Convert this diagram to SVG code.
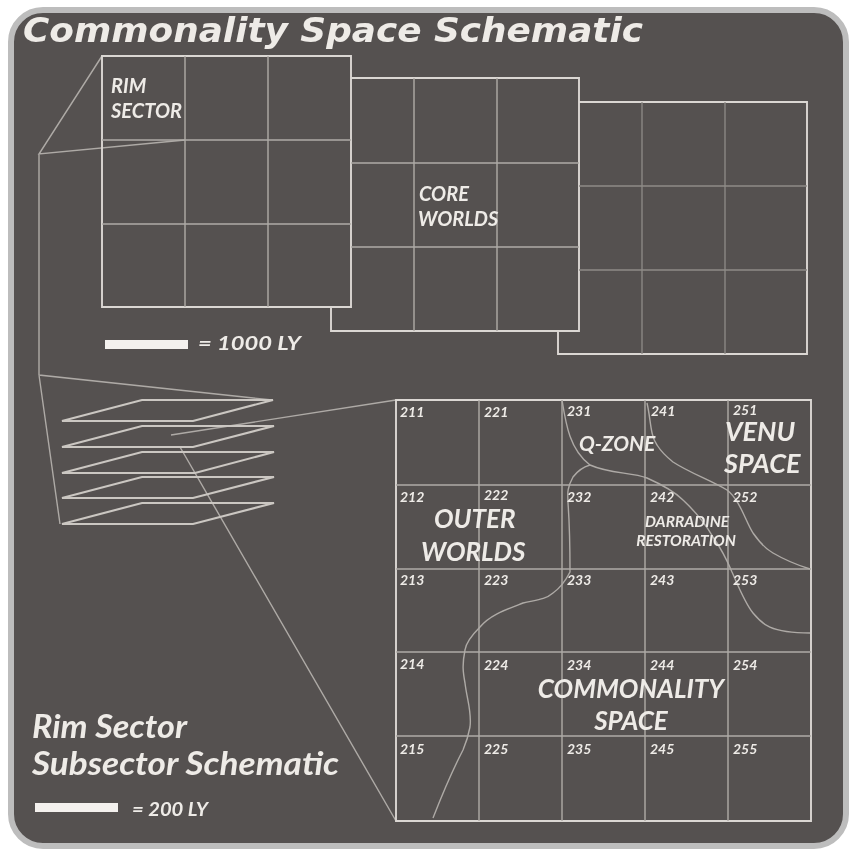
<svg xmlns="http://www.w3.org/2000/svg" width="851" height="849" viewBox="0 0 851 849">
<defs><filter id="soft" x="-2%" y="-2%" width="104%" height="104%"><feGaussianBlur stdDeviation="0.45"/></filter></defs>
<style>
.l{fill:none;stroke:#aeaaa6;stroke-width:1.4}
.g{fill:none;stroke:#dbd7d3;stroke-width:1.9}
.d{fill:none;stroke:#8f8b87;stroke-width:1.3}
.t{font-family:"Lato","Liberation Sans",sans-serif;font-style:italic;font-weight:700;fill:#eeebe7}
.n{font-size:14px}
.s{fill:none;stroke:#cbc7c2;stroke-width:2.1}
.b{fill:#f4f1ee}
</style>
<rect width="851" height="849" fill="#fff"/>
<g id="frame"><rect x="11" y="10" width="835" height="836" rx="32" fill="#555150" stroke="#bdbdbd" stroke-width="6"/></g>
<g filter="url(#soft)">
<text id="title" class="t" x="23" y="42" font-size="33" textLength="620" lengthAdjust="spacingAndGlyphs" style="font-family:'DejaVu Sans',sans-serif;font-weight:700">Commonality Space Schematic</text>
<g id="connectors">
<path class="l" d="M102 56L39 154L185 140M39 154V375L272 400M39 375L60 524"/>
<path class="l" d="M171 435L396 400M180 447L396 821"/>
</g>
<g id="grid-rim-sector">
<path class="g" d="M102 56H351V307H102Z"/>
<path class="l" d="M185 56V307M268 56V307M102 140H351M102 224H351"/>
<text class="t" font-size="20"><tspan x="111" y="93">RIM</tspan><tspan x="111" y="118">SECTOR</tspan></text>
</g>
<g id="grid-core-worlds">
<path class="g" d="M351 78H579V331H331V307"/>
<path class="l" d="M414 78V331M497 78V331M351 163H579M351 247H579"/>
<text class="t" font-size="20"><tspan x="419" y="201">CORE</tspan><tspan x="418" y="226">WORLDS</tspan></text>
</g>
<g id="grid-third">
<path class="g" d="M579 102H807V354H558V331"/>
<path class="d" d="M642 102V354M725 102V354M579 186H807M579 270H807"/>
</g>
<g id="scale-1000"><rect class="b" x="105" y="340" width="83" height="9"/><text class="t" x="198" y="350" font-size="18" textLength="103" lengthAdjust="spacingAndGlyphs">= 1000 LY</text></g>
<g id="slabs">
<path class="s" d="M62 421L142 400H273L193 421Z"/>
<path class="s" d="M62 447L142 426H274L193 447Z"/>
<path class="s" d="M62 473L142 452H274L195 473Z"/>
<path class="s" d="M62 498L142 477H274L193 498Z"/>
<path class="s" d="M62 524L142 503H274L193 524Z"/>
</g>
<g id="grid-subsector">
<path class="g" d="M396 400H811V821H396Z"/>
<path class="l" d="M479 400V821M562 400V821M645 400V821M728 400V821M396 485H811M396 569H811M396 652H811M396 736H811"/>
</g>
<g id="borders">
<path class="l" d="M562 400C566 425 570 450 590 465C610 474 632 472 647 478C665 486 675 492 683 500C698 514 706 525 713 537C722 550 727 560 732 572C740 590 745 603 753 613C762 624 770 633 810 633"/>
<path class="l" d="M647 403C651 420 650 435 657 445C662 453 668 458 673 462C690 473 710 480 727 490C740 500 745 520 753 533C760 543 766 549 773 553C785 560 797 565 810 569"/>
<path class="l" d="M590 465C580 468 576 473 573 477C566 490 568 495 568 503C570 530 570 555 570 572C565 582 560 588 553 593C545 600 535 600 523 603C505 610 490 615 480 627C472 635 466 642 465 650C462 665 463 672 465 683C467 700 472 712 470 727C468 738 466 743 463 750C450 775 442 795 433 818"/>
</g>
<g id="labels" class="t n">
<text x="400" y="417">211</text><text x="484" y="417">221</text><text x="567" y="416">231</text><text x="651" y="416">241</text><text x="733" y="415">251</text>
<text x="400" y="502">212</text><text x="484" y="500">222</text><text x="567" y="502">232</text><text x="650" y="502">242</text><text x="733" y="502">252</text>
<text x="400" y="585">213</text><text x="484" y="585">223</text><text x="567" y="585">233</text><text x="650" y="585">243</text><text x="733" y="585">253</text>
<text x="400" y="669">214</text><text x="484" y="670">224</text><text x="567" y="670">234</text><text x="650" y="670">244</text><text x="733" y="670">254</text>
<text x="400" y="754">215</text><text x="484" y="754">225</text><text x="567" y="754">235</text><text x="650" y="754">245</text><text x="733" y="754">255</text>
</g>
<g id="region-labels">
<text class="t" x="579" y="451" font-size="21">Q-ZONE</text>
<text class="t" font-size="27"><tspan x="725" y="441">VENU</tspan><tspan x="724" y="473">SPACE</tspan></text>
<text class="t" font-size="15.5" text-anchor="middle"><tspan x="687" y="527">DARRADINE</tspan><tspan x="686" y="546">RESTORATION</tspan></text>
<text class="t" font-size="26"><tspan x="434" y="528">OUTER</tspan><tspan x="421" y="561">WORLDS</tspan></text>
<text class="t" font-size="26" text-anchor="middle"><tspan x="631" y="698">COMMONALITY</tspan><tspan x="631" y="730">SPACE</tspan></text>
</g>
<g id="legend">
<text class="t" x="32" y="738" font-size="32" textLength="155" lengthAdjust="spacingAndGlyphs">Rim Sector</text>
<text class="t" x="32" y="775" font-size="32" textLength="307" lengthAdjust="spacingAndGlyphs">Subsector Schematic</text>
<rect class="b" x="35" y="803" width="83" height="9"/>
<text class="t" x="132" y="816" font-size="18" textLength="76" lengthAdjust="spacingAndGlyphs">= 200 LY</text>
</g>
</g>
</svg>
